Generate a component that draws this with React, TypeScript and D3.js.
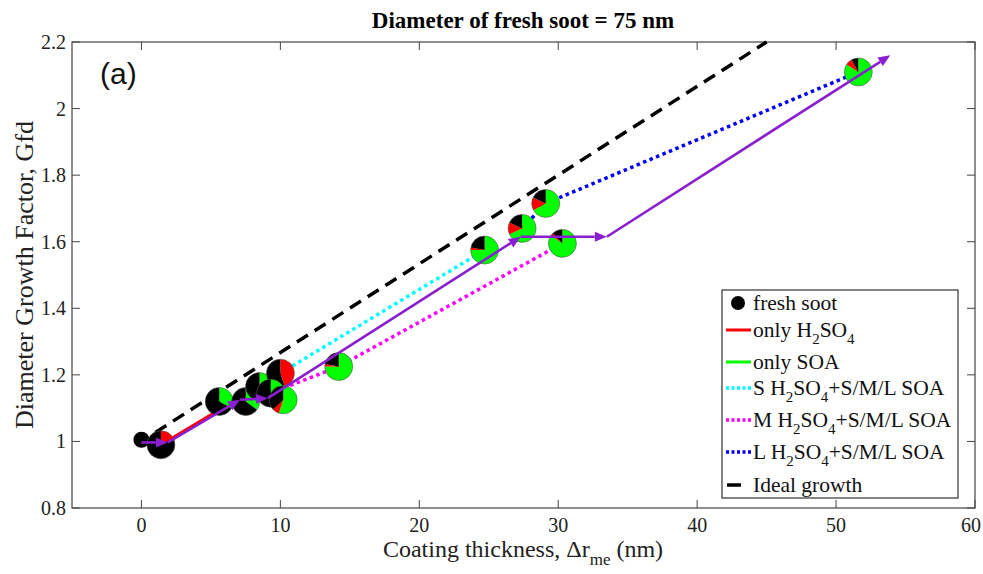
import * as React from 'react';
import * as d3 from 'd3';

// coating thickness (nm) and growth factor of each coated-soot particle
const pieX = [1.4, 5.6, 7.5, 8.5, 10.0, 9.3, 10.2, 14.2, 24.7, 27.4, 29.1, 30.3, 51.6];
const pieY = [0.99, 1.12, 1.12, 1.165, 1.205, 1.145, 1.125, 1.225, 1.575, 1.64, 1.715, 1.595, 2.11];
// volume fractions, drawn clockwise from 12 o'clock: SOA, H2SO4, soot
const fracSOA = [0, 0.33, 0.35, 0.3, 0, 0.4, 0.55, 0.75, 0.75, 0.68, 0.67, 0.85, 0.84];
const fracH2SO4 = [0.17, 0, 0, 0, 0.45, 0, 0.08, 0.03, 0.03, 0.14, 0.15, 0.03, 0.08];
const fracSoot = [0.83, 0.67, 0.65, 0.7, 0.55, 0.6, 0.37, 0.22, 0.22, 0.18, 0.18, 0.12, 0.08];

const freshX = [0];
const freshY = [1.005];

// series as indexes into the pie arrays
const onlyH2SO4 = [0, 4];
const onlySOA = [1, 2, 3];
const sSeries = [4, 8];
const mSeries = [5, 7, 11];
const lSeries = [9, 10, 12];

// ideal growth Gfd = 1 + 2*dr/75
const idealX = [1, 45];
const idealY = [1.027, 2.2];

// purple pathway arrows
const arrowX = [0, 1.9, 7.1, 9.1, 27.3, 33.5, 53.9];
const arrowY = [0.997, 0.997, 1.125, 1.13, 1.615, 1.615, 2.16];

const xTicks = [0, 10, 20, 30, 40, 50, 60];
const yTicks = [0.8, 1, 1.2, 1.4, 1.6, 1.8, 2, 2.2];

const legendKeys = ['fresh', 'red', 'green', 'cyan', 'magenta', 'blue', 'ideal'];
// label pieces, "_" marks a subscript
const legendText = [
  ['fresh soot'],
  ['only H', '_2', 'SO', '_4'],
  ['only SOA'],
  ['S H', '_2', 'SO', '_4', '+S/M/L SOA'],
  ['M H', '_2', 'SO', '_4', '+S/M/L SOA'],
  ['L H', '_2', 'SO', '_4', '+S/M/L SOA'],
  ['Ideal growth'],
];

const W = 983;
const H = 574;
const left = 72, right = 975, top = 42, bottom = 508;
const serif = "'Liberation Serif', 'Times New Roman', serif";
const purple = '#8A1FD0';
const pieColors = ['#00FF00', '#FF0000', '#000000'];

const Pieces = ({ parts, shift, subSize }) => {
  let down = false;
  return (
    <>
      {parts.map((p, k) => {
        const isSub = p.startsWith('_');
        let dy = 0;
        if (isSub && !down) dy = shift;
        if (!isSub && down) dy = -shift;
        down = isSub;
        return (
          <tspan key={k} dy={dy} fontSize={isSub ? subSize : undefined}>
            {isSub ? p.slice(1) : p}
          </tspan>
        );
      })}
    </>
  );
};

const App = () => {
  const x = d3.scaleLinear().domain([-5, 60]).range([left, right]);
  const y = d3.scaleLinear().domain([0.8, 2.2]).range([bottom, top]);
  const line = d3.line<number>().x((i) => x(pieX[i])).y((i) => y(pieY[i]));
  const idealLine = d3.line<number>().x((i) => x(idealX[i])).y((i) => y(idealY[i]));
  const createPie = d3.pie<number>().value((d) => d).sort(null);
  const createArc = d3.arc().innerRadius(0).outerRadius(14);

  const arrows = arrowX.slice(1).map((_, k) => {
    const x0 = x(arrowX[k]), y0 = y(arrowY[k]);
    const x1 = x(arrowX[k + 1]), y1 = y(arrowY[k + 1]);
    const a = Math.atan2(y1 - y0, x1 - x0);
    const L = 12, hw = 5;
    const bx = x1 - L * Math.cos(a), by = y1 - L * Math.sin(a);
    const head = [
      [x1, y1],
      [bx + hw * Math.sin(a), by - hw * Math.cos(a)],
      [bx - hw * Math.sin(a), by + hw * Math.cos(a)],
    ];
    return { x0, y0, bx, by, head };
  });

  const legY = [303, 330, 362, 388, 420, 452, 485];
  const dotColor = { cyan: '#00FFFF', magenta: '#FF00FF', blue: '#0000FF' };

  return (
    <svg width={W} height={H} style={{ position: 'absolute', left: 0, top: 0, background: '#fff' }}>
      <rect x={0} y={0} width={W} height={H} fill="#fff" />
      <text x={523} y={28} textAnchor="middle" fontFamily={serif} fontWeight="bold" fontSize={23}>
        Diameter of fresh soot = 75 nm
      </text>

      {/* frame and ticks */}
      <rect x={left} y={top} width={right - left} height={bottom - top} fill="none" stroke="#444" strokeWidth={1.2} />
      {xTicks.map((t) => (
        <g key={'x' + t}>
          <line x1={x(t)} x2={x(t)} y1={bottom} y2={bottom - 8} stroke="#444" />
          <line x1={x(t)} x2={x(t)} y1={top} y2={top + 8} stroke="#444" />
          <text x={Math.min(x(t), W - 12)} y={bottom + 24} textAnchor="middle" fontFamily={serif} fontSize={20} fill="#222">
            {t}
          </text>
        </g>
      ))}
      {yTicks.map((t) => (
        <g key={'y' + t}>
          <line x1={left} x2={left + 8} y1={y(t)} y2={y(t)} stroke="#444" />
          <line x1={right} x2={right - 8} y1={y(t)} y2={y(t)} stroke="#444" />
          <text x={left - 6} y={y(t) + 7} textAnchor="end" fontFamily={serif} fontSize={20} fill="#222">
            {d3.format('~g')(t)}
          </text>
        </g>
      ))}
      <text x={523} y={557} textAnchor="middle" fontFamily={serif} fontSize={24} fill="#222">
        <Pieces parts={['Coating thickness, Δr', '_me', ' (nm)']} shift={8} subSize={17} />
      </text>
      <text transform="translate(33 275) rotate(-90)" textAnchor="middle" fontFamily={serif} fontSize={26} fill="#222">
        Diameter Growth Factor, Gfd
      </text>
      <text x={100} y={84} fontFamily="'Liberation Sans', Arial, sans-serif" fontSize={30} fill="#111">
        (a)
      </text>

      {/* lines */}
      <path d={idealLine([0, 1])} stroke="#000" strokeWidth={3.5} strokeDasharray="13 8" fill="none" />
      <path d={line(onlyH2SO4)} stroke="#FF0000" strokeWidth={3} fill="none" />
      <path d={line(onlySOA)} stroke="#00FF00" strokeWidth={3} fill="none" />
      <path d={line(sSeries)} stroke="#00FFFF" strokeWidth={3.5} strokeDasharray="3.5 3.5" fill="none" />
      <path d={line(mSeries)} stroke="#FF00FF" strokeWidth={3.5} strokeDasharray="3.5 3.5" fill="none" />
      <path d={line(lSeries)} stroke="#0000FF" strokeWidth={3.5} strokeDasharray="3.5 3.5" fill="none" />

      {/* fresh soot */}
      {freshX.map((v, i) => (
        <circle key={'f' + i} cx={x(v)} cy={y(freshY[i])} r={8} fill="#000" />
      ))}

      {/* pies */}
      {pieX.map((v, i) => {
        const slices = createPie([fracSOA[i], fracH2SO4[i], fracSoot[i]]);
        return (
          <g key={'p' + i} transform={`translate(${x(v)},${y(pieY[i])})`}>
            {slices.map((s, j) =>
              s.value > 0 ? <path key={j} d={createArc(s)} fill={pieColors[j]} /> : null
            )}
            <circle r={14} fill="none" stroke="#555" strokeWidth={0.6} />
          </g>
        );
      })}

      {/* purple arrows */}
      {arrows.map((a, k) => (
        <g key={'a' + k}>
          <line x1={a.x0} y1={a.y0} x2={a.bx} y2={a.by} stroke={purple} strokeWidth={2.6} />
          <polygon points={a.head.map((p) => p.join(',')).join(' ')} fill={purple} />
        </g>
      ))}

      {/* legend */}
      <rect x={722} y={290} width={236} height={208} fill="#fff" stroke="#333" strokeWidth={1.2} />
      {legendKeys.map((key, i) => {
        const ly = legY[i];
        let mark = null;
        if (key === 'fresh') mark = <circle cx={738} cy={ly} r={7} fill="#000" />;
        else if (key === 'red') mark = <line x1={726} x2={751} y1={ly} y2={ly} stroke="#FF0000" strokeWidth={3} />;
        else if (key === 'green') mark = <line x1={726} x2={751} y1={ly} y2={ly} stroke="#00FF00" strokeWidth={3} />;
        else if (key === 'ideal') mark = <line x1={727} x2={741} y1={ly} y2={ly} stroke="#000" strokeWidth={3.5} />;
        else
          mark = <line x1={726} x2={751} y1={ly} y2={ly} stroke={dotColor[key]} strokeWidth={3.5} strokeDasharray="3 2.5" />;
        return (
          <g key={key}>
            {mark}
            <text x={753} y={ly + 7} fontFamily={serif} fontSize={21.5} fill="#111">
              <Pieces parts={legendText[i]} shift={7} subSize={15} />
            </text>
          </g>
        );
      })}
    </svg>
  );
};

export default App;
